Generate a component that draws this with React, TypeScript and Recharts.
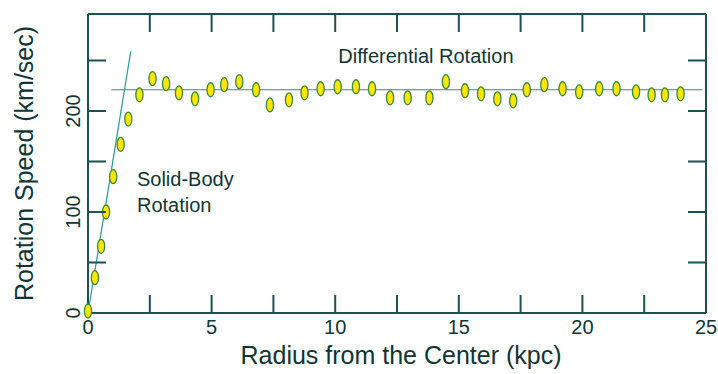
import React from 'react'
import {ScatterChart, Scatter, XAxis, YAxis, ReferenceLine, ReferenceDot, Label} from 'recharts'

// measured rotation curve (kpc, km/sec)
const radius = [0, 0.28, 0.53, 0.73, 1.02, 1.32, 1.63, 2.08, 2.61, 3.16, 3.68, 4.33, 4.96, 5.51, 6.12, 6.8, 7.36, 8.13, 8.76, 9.41, 10.1, 10.84, 11.49, 12.22, 12.93, 13.81, 14.48, 15.25, 15.9, 16.56, 17.2, 17.75, 18.46, 19.2, 19.87, 20.68, 21.38, 22.17, 22.8, 23.34, 23.97]
const speed = [2, 35, 66, 100, 135, 167, 192, 216, 232, 227, 218, 212, 221, 226, 229, 221, 206, 211, 218, 222, 224, 224, 222, 213, 213, 213, 229, 220, 217, 212, 210, 221, 226, 222, 219, 222, 222, 219, 216, 216, 217]

// guide lines
const solidBody = [{x: 0, y: 0}, {x: 1.73, y: 259}]
const flatLine = [{x: 0.95, y: 221}, {x: 24.85, y: 221}]

const xTicks = [0, 2.5, 5, 7.5, 10, 12.5, 15, 17.5, 20, 22.5, 25]
const yTicks = [0, 50, 100, 150, 200, 250]
const Y_MAX = 296

const points = radius.map((r, i) => ({x: r, y: speed[i]}))

const INK = '#0f3535'
const AXIS = '#1d5050'
const FONT = '"Liberation Sans", Arial, sans-serif'
const PLOT_TOP = 14
const PLOT_RIGHT = 706

const Oval = (p: any) => (
  <ellipse cx={p.cx} cy={p.cy} rx={3.6} ry={7} fill="#ffe600" stroke="#3a8a3a" strokeWidth={1.3} />
)

// bottom ticks also draw their mirror image on the top edge
const BottomTick = ({x, y, payload}: any) => (
  <g>
    {payload.value > 0 && payload.value < 25 && (
      <>
        <path d={`M${x},${y}V${y - 18}`} stroke={AXIS} strokeWidth={2} fill="none" />
        <rect x={x - 1} y={PLOT_TOP} width={2} height={18} fill={AXIS} />
      </>
    )}
    {payload.value % 5 === 0 && (
      <text x={x} y={y + 14} textAnchor="middle" dominantBaseline="central" fontSize={20} fill={INK} fontFamily={FONT}>{payload.value}</text>
    )}
  </g>
)

// right-hand ticks mirror the left ones
const LeftTick = ({x, y, payload}: any) => (
  <g>
    {payload.value > 0 && (
      <path d={`M${x},${y}H${x + 18}M${PLOT_RIGHT},${y}H${PLOT_RIGHT - 18}`} stroke={AXIS} strokeWidth={2} fill="none" />
    )}
    {payload.value % 100 === 0 && (
      <text x={73} y={y} transform={`rotate(-90, 73, ${y})`} textAnchor="middle" dominantBaseline="central" fontSize={20} fill={INK} fontFamily={FONT}>{payload.value}</text>
    )}
  </g>
)

const note = {fontSize: 20, fill: INK, fontFamily: FONT}

export default function App() {
  return (
    <div style={{position: 'absolute', left: 0, top: 0, background: '#fff'}}>
      <ScatterChart width={718} height={374} margin={{top: PLOT_TOP, right: 0, bottom: 0, left: 0}}>
        <XAxis type="number" dataKey="x" domain={[0, 25]} ticks={xTicks} interval={0} height={61}
          tickSize={0} tickMargin={0} tick={BottomTick} axisLine={{stroke: AXIS, strokeWidth: 2}}>
          <Label value="Radius from the Center (kpc)" position="insideBottom" offset={10} dx={4} fontSize={25} fill={INK} fontFamily={FONT} />
        </XAxis>
        <YAxis type="number" dataKey="y" domain={[0, Y_MAX]} ticks={yTicks} interval={0} width={88}
          tickSize={0} tickMargin={0} tick={LeftTick} axisLine={{stroke: AXIS, strokeWidth: 2}}>
          <Label value="Rotation Speed (km/sec)" angle={-90} position="insideLeft" offset={24} fontSize={25} fill={INK} fontFamily={FONT} style={{textAnchor: 'middle'}} />
        </YAxis>
        <YAxis yAxisId="right" orientation="right" type="number" dataKey="y" domain={[0, Y_MAX]} width={718 - PLOT_RIGHT}
          tick={false} tickLine={false} axisLine={{stroke: AXIS, strokeWidth: 2}} />
        <ReferenceLine y={Y_MAX} stroke={AXIS} strokeWidth={2} ifOverflow="visible" />
        <ReferenceLine segment={flatLine} stroke="#5e7676" strokeWidth={1.2} ifOverflow="visible" />
        <ReferenceLine segment={solidBody} stroke="#2a9898" strokeWidth={1.2} ifOverflow="visible" />
        <ReferenceDot x={13.67} y={254.7} r={0} fill="none" stroke="none" label={{value: 'Differential Rotation', position: 'center', ...note}} />
        <ReferenceDot x={1.98} y={132.7} r={0} fill="none" stroke="none" label={{value: 'Solid-Body', position: 'right', offset: 0, ...note}} />
        <ReferenceDot x={1.98} y={107.4} r={0} fill="none" stroke="none" label={{value: 'Rotation', position: 'right', offset: 0, ...note}} />
        <Scatter data={points} shape={Oval} isAnimationActive={false} />
      </ScatterChart>
    </div>
  )
}
